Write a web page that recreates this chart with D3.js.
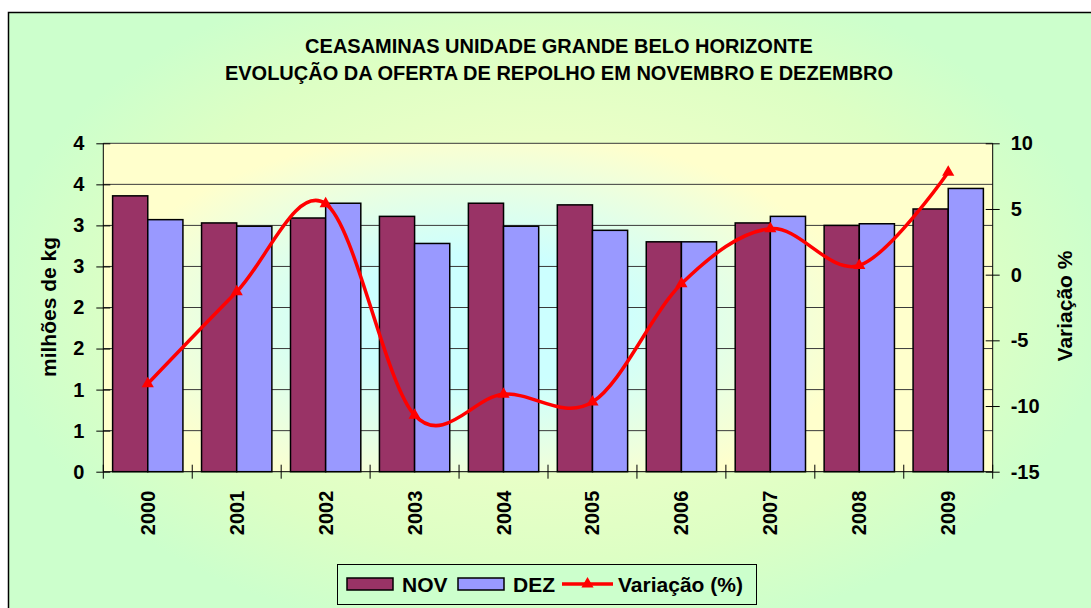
<!DOCTYPE html>
<html>
<head>
<meta charset="utf-8">
<script src="https://cdn.jsdelivr.net/npm/d3@7"></script>
<style>
  body { margin: 0; background: #ffffff; }
  svg text { font-family: "Liberation Sans", Arial, sans-serif; font-weight: bold; fill: #000; }
</style>
</head>
<body>
<svg id="chart" width="1091" height="608"></svg>
<script>
const years = ["2000", "2001", "2002", "2003", "2004", "2005", "2006", "2007", "2008", "2009"];
const nov = [3.36, 3.03, 3.09, 3.11, 3.27, 3.25, 2.80, 3.03, 3.00, 3.20];
const dez = [3.07, 2.99, 3.27, 2.78, 2.99, 2.94, 2.80, 3.11, 3.02, 3.45];
const variacao = [-8.3, -1.3, 5.4, -10.7, -9.1, -9.7, -0.7, 3.5, 0.7, 7.8];
const series = ["NOV", "DEZ"];
const leftTicks = [0, 0.5, 1, 1.5, 2, 2.5, 3, 3.5, 4];
const rightTicks = [-15, -10, -5, 0, 5, 10];
const titleLines = ["CEASAMINAS UNIDADE GRANDE BELO HORIZONTE", "EVOLUÇÃO DA OFERTA DE REPOLHO EM NOVEMBRO E DEZEMBRO"];

const colors = { NOV: "#993366", DEZ: "#9999ff" };

const svg = d3.select("#chart");
const defs = svg.append("defs");

// fundo do gráfico
const bg = defs.append("radialGradient").attr("id", "bgGrad")
    .attr("gradientUnits", "userSpaceOnUse")
    .attr("cx", 550).attr("cy", 300).attr("r", 560)
    .attr("gradientTransform", "translate(550,300) scale(1,0.62) translate(-550,-300)");
bg.append("stop").attr("offset", "0").attr("stop-color", "#ffffcc");
bg.append("stop").attr("offset", "0.75").attr("stop-color", "#ddffc4");
bg.append("stop").attr("offset", "1").attr("stop-color", "#ccffcc");

const pg = defs.append("radialGradient").attr("id", "plotGrad")
    .attr("gradientUnits", "userSpaceOnUse")
    .attr("cx", 480).attr("cy", 320).attr("r", 380)
    .attr("gradientTransform", "translate(480,320) scale(1,0.5) translate(-480,-320)");
pg.append("stop").attr("offset", "0").attr("stop-color", "#ccffff");
pg.append("stop").attr("offset", "0.35").attr("stop-color", "#ccffff");
pg.append("stop").attr("offset", "1").attr("stop-color", "#ffffcc");

svg.append("rect")
    .attr("x", 8.5).attr("y", 12.5)
    .attr("width", 1120).attr("height", 620)
    .attr("fill", "url(#bgGrad)")
    .attr("stroke", "#000").attr("stroke-width", 1.5);

const margin = { left: 103.3, right: 992.7, top: 143.3, bottom: 471.7 };

const x = d3.scaleBand().domain(years).range([margin.left, margin.right]);
const xSub = d3.scaleBand().domain(series).range([0, x.bandwidth()]).paddingOuter(0.265);
const y = d3.scaleLinear().domain([0, 4]).range([margin.bottom, margin.top]);
const y2 = d3.scaleLinear().domain([-15, 10]).range([margin.bottom, margin.top]);

// área de plotagem
svg.append("rect")
    .attr("x", margin.left).attr("y", margin.top)
    .attr("width", margin.right - margin.left)
    .attr("height", margin.bottom - margin.top)
    .attr("fill", "url(#plotGrad)");

// linhas de grade
svg.append("g")
    .selectAll("line")
    .data(leftTicks.filter(d => d > 0))
    .enter().append("line")
    .attr("x1", margin.left).attr("x2", margin.right)
    .attr("y1", d => y(d)).attr("y2", d => y(d))
    .attr("stroke", "#3a3a3a").attr("stroke-width", 1);

// barras
const rows = years.map((yr, i) => ({ year: yr, NOV: nov[i], DEZ: dez[i] }));
svg.append("g")
    .selectAll("g")
    .data(rows)
    .enter().append("g")
    .attr("transform", d => `translate(${x(d.year)},0)`)
    .selectAll("rect")
    .data(d => series.map(s => ({ key: s, value: d[s] })))
    .enter().append("rect")
    .attr("x", d => xSub(d.key))
    .attr("y", d => y(d.value))
    .attr("width", xSub.bandwidth())
    .attr("height", d => y(0) - y(d.value))
    .attr("fill", d => colors[d.key])
    .attr("stroke", "#000").attr("stroke-width", 1.5);

// eixo esquerdo
const axisL = svg.append("g")
    .attr("transform", `translate(${margin.left},0)`)
    .call(d3.axisLeft(y).tickValues(leftTicks).tickSize(7).tickPadding(12)
        .tickFormat(d => Math.round(d)));
axisL.selectAll(".tick line").attr("x1", 7);
axisL.select(".domain").attr("d", `M0,${margin.top}V${margin.bottom}`);

// eixo direito
const axisR = svg.append("g")
    .attr("transform", `translate(${margin.right},0)`)
    .call(d3.axisRight(y2).tickValues(rightTicks).tickSize(7).tickPadding(11)
        .tickFormat(d => String(d)));
axisR.selectAll(".tick line").attr("x1", -7);
axisR.select(".domain").attr("d", `M0,${margin.top}V${margin.bottom}`);

// eixo das categorias
const axisB = svg.append("g")
    .attr("transform", `translate(0,${margin.bottom})`);
axisB.append("line")
    .attr("x1", margin.left).attr("x2", margin.right)
    .attr("stroke", "#000");
axisB.selectAll("line.tk")
    .data(years.concat(["end"]))
    .enter().append("line")
    .attr("class", "tk")
    .attr("x1", (d, i) => i < years.length ? x(d) : margin.right)
    .attr("x2", (d, i) => i < years.length ? x(d) : margin.right)
    .attr("y1", -7).attr("y2", 7)
    .attr("stroke", "#000");
axisB.selectAll("text")
    .data(years)
    .enter().append("text")
    .attr("transform", d => `translate(${x(d) + x.bandwidth() / 2 + 7},19) rotate(-90)`)
    .attr("text-anchor", "end")
    .attr("font-size", "20px")
    .text(d => d);

[axisL, axisR].forEach(a => {
    a.selectAll("text").attr("font-size", "20px").attr("fill", "#000");
    a.selectAll("line, path").attr("stroke", "#000");
});

// linha de variação
const pts = years.map((yr, i) => [x(yr) + x.bandwidth() / 2, y2(variacao[i])]);
svg.append("path")
    .attr("d", d3.line().curve(d3.curveCardinal.tension(0))(pts))
    .attr("fill", "none")
    .attr("stroke", "#ff0000")
    .attr("stroke-width", 3.5);

const tri = d3.symbol().type(d3.symbolTriangle).size(64);
svg.append("g")
    .selectAll("path")
    .data(pts)
    .enter().append("path")
    .attr("d", tri)
    .attr("transform", d => `translate(${d[0]},${d[1]})`)
    .attr("fill", "#ff0000");

// títulos
svg.append("g")
    .selectAll("text")
    .data(titleLines)
    .enter().append("text")
    .attr("x", 559).attr("y", (d, i) => 53 + i * 27)
    .attr("text-anchor", "middle")
    .attr("font-size", "20px")
    .text(d => d);

svg.append("text")
    .attr("transform", "translate(56,307) rotate(-90)")
    .attr("text-anchor", "middle")
    .attr("font-size", "21px")
    .text("milhões de kg");

svg.append("text")
    .attr("transform", "translate(1072,306) rotate(-90)")
    .attr("text-anchor", "middle")
    .attr("font-size", "21px")
    .text("Variação %");

// legenda
const legend = svg.append("g");
legend.append("rect")
    .attr("x", 337.5).attr("y", 564.5)
    .attr("width", 419).attr("height", 40)
    .attr("fill", "#ccffcc")
    .attr("stroke", "#000").attr("stroke-width", 1);

series.forEach((s, i) => {
    const lx = [347, 458][i];
    legend.append("rect")
        .attr("x", lx).attr("y", 578)
        .attr("width", 46).attr("height", 12)
        .attr("fill", colors[s])
        .attr("stroke", "#000").attr("stroke-width", 1.5);
    legend.append("text")
        .attr("x", lx + 55).attr("y", 592)
        .attr("font-size", "21px")
        .text(s);
});

legend.append("line")
    .attr("x1", 562).attr("x2", 613)
    .attr("y1", 584).attr("y2", 584)
    .attr("stroke", "#ff0000").attr("stroke-width", 3.5);
legend.append("path")
    .attr("d", tri)
    .attr("transform", "translate(587.5,584)")
    .attr("fill", "#ff0000");
legend.append("text")
    .attr("x", 618).attr("y", 592)
    .attr("font-size", "21px")
    .text("Variação (%)");
</script>
</body>
</html>
